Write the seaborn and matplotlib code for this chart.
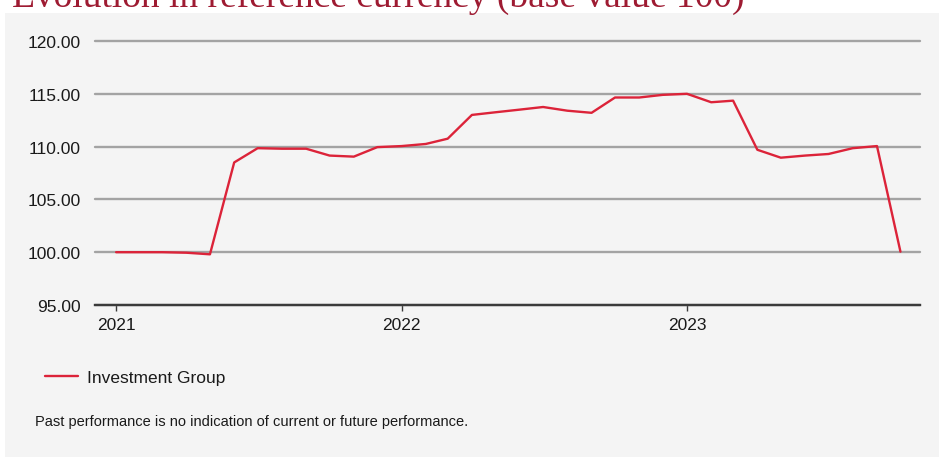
import matplotlib
matplotlib.use("Agg")
import matplotlib.pyplot as plt
from matplotlib.patches import Rectangle
import seaborn as sns
import pandas as pd

# ---- data ----
dates = [
    "2021-01", "2021-02", "2021-03", "2021-04", "2021-05", "2021-06",
    "2021-07", "2021-08", "2021-09", "2021-10", "2021-11", "2021-12",
    "2022-01", "2022-02", "2022-03", "2022-04", "2022-05", "2022-06",
    "2022-07", "2022-08", "2022-09", "2022-10", "2022-11", "2022-12",
    "2023-01", "2023-02", "2023-03", "2023-04", "2023-05", "2023-06",
    "2023-07", "2023-08", "2023-09", "2023-10",
]
values = [
    100.00, 100.00, 100.00, 99.95, 99.80, 108.50,
    109.85, 109.80, 109.80, 109.15, 109.05, 109.95,
    110.05, 110.25, 110.75, 113.00, 113.25, 113.50,
    113.75, 113.40, 113.20, 114.65, 114.65, 114.90,
    115.00, 114.20, 114.35, 109.70, 108.95, 109.15,
    109.30, 109.85, 110.05, 100.05,
]
series_name = "Investment Group"
year_ticks = ["2021-01-01", "2022-01-01", "2023-01-01"]
year_labels = ["2021", "2022", "2023"]
y_ticks = [95, 100, 105, 110, 115, 120]
title = "Evolution in reference currency (base value 100)"
footnote = "Past performance is no indication of current or future performance."

df = pd.DataFrame({"date": pd.to_datetime(dates), "value": values, "series": series_name})

# ---- style ----
sns.set_style("white")
plt.rcParams["font.family"] = ["Liberation Sans", "DejaVu Sans"]

W, H = 939, 460
fig = plt.figure(figsize=(W / 100, H / 100), dpi=100, facecolor="white")
panel_color = "#f4f4f4"
panel = Rectangle((5 / W, 2 / H), (W - 5) / W, (H - 14 - 2) / H,
                  transform=fig.transFigure, facecolor=panel_color,
                  edgecolor="none", zorder=-10)
fig.patches.append(panel)

ax = fig.add_axes([95 / W, 1 - 306 / H, (920 - 95) / W, (306 - 42) / H])
ax.set_facecolor(panel_color)
ax.set_zorder(1)

line_color = "#dc2339"
sns.lineplot(data=df, x="date", y="value", hue="series", palette=[line_color],
             linewidth=1.7, ax=ax, legend=True)

ax.set_ylim(95, 120)
ax.set_yticks(y_ticks)
ax.set_yticklabels([f"{v:.2f}" for v in y_ticks])
ax.set_xlim(pd.Timestamp("2020-12-05"), pd.Timestamp("2023-10-26"))
ax.set_xticks(pd.to_datetime(year_ticks))
ax.set_xticklabels(year_labels)
ax.set_xlabel("")
ax.set_ylabel("")

ax.yaxis.grid(True, color="#a3a3a3", linewidth=1.7)
for gl in ax.get_ygridlines():
    gl.set_clip_on(False)
ax.xaxis.grid(False)
ax.set_axisbelow(True)
for s in ["top", "right", "left"]:
    ax.spines[s].set_visible(False)
ax.spines["bottom"].set_color("#3a3a3a")
ax.spines["bottom"].set_linewidth(1.7)
ax.spines["bottom"].set_zorder(3)

ax.tick_params(axis="y", length=0, pad=10.5, labelsize=12.5, labelcolor="#1a1a1a")
ax.tick_params(axis="x", length=4, width=1, color="#3a3a3a", direction="out",
               pad=5, labelsize=12.5, labelcolor="#1a1a1a", bottom=True)

# legend
handles, labels = ax.get_legend_handles_labels()
ax.get_legend().remove()
leg = fig.legend(handles, labels, loc="center left",
                 bbox_to_anchor=(45 / W, 1 - 378 / H), bbox_transform=fig.transFigure,
                 frameon=False, borderpad=0, borderaxespad=0,
                 handlelength=1.9, handletextpad=0.5, fontsize=12.5)
for t in leg.get_texts():
    t.set_color("#1a1a1a")

# footnote
fig.text(35 / W, 1 - 426 / H, footnote, fontsize=10.5, color="#1a1a1a", va="baseline")

# title, clipped by the top edge as in the reference
fig.text(12 / W, 1 - 7 / H, title, fontsize=27, color="#9e1b32", va="baseline",
         family=["Liberation Serif", "DejaVu Serif"])

fig.savefig("out.png", dpi=100, facecolor="white")
